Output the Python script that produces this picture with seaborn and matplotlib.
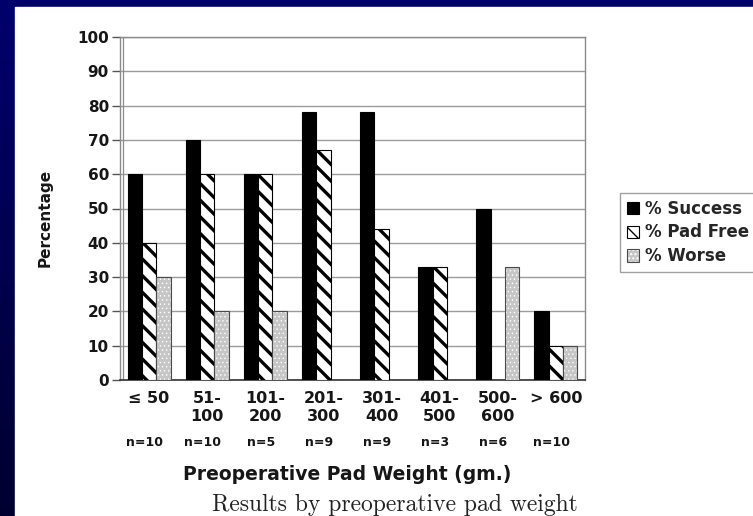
import numpy as np
import pandas as pd
import matplotlib
matplotlib.use("Agg")
import matplotlib.pyplot as plt
import matplotlib.transforms as mtransforms
from matplotlib.colors import LinearSegmentedColormap, to_rgba
from matplotlib.patches import Rectangle, Patch
import seaborn as sns

# Outcome percentages by preoperative pad weight group
categories = ["≤ 50", "51-\n100", "101-\n200", "201-\n300", "301-\n400",
              "401-\n500", "500-\n600", "> 600"]
n_labels = ["n=10", "n=10", "n=5", "n=9", "n=9", "n=3", "n=6", "n=10"]
series = ["% Success", "% Pad Free", "% Worse"]
success = [60, 70, 60, 78, 78, 33, 50, 20]
pad_free = [40, 60, 60, 67, 44, 33, 0, 10]
worse = [30, 20, 20, 0, 0, 0, 33, 10]
y_ticks = list(range(0, 101, 10))

sns.set_theme(style="white")
plt.rcParams["font.family"] = ["DejaVu Sans"]

df = pd.DataFrame({
    "Weight": categories * 3,
    "Series": np.repeat(series, len(categories)),
    "Percentage": success + pad_free + worse,
})

W, H = 753, 516
INK = "#161616"
fig = plt.figure(figsize=(W / 100, H / 100), dpi=100)

# slide background: navy frame with a white panel
bg = fig.add_axes([0, 0, 1, 1], zorder=-10)
grad = np.linspace(0, 1, 256)[:, None]
cmap = LinearSegmentedColormap.from_list("navy", ["#00006c", "#000030"])
bg.imshow(grad, aspect="auto", cmap=cmap, extent=[0, 1, 0, 1])
bg.add_patch(Rectangle((15 / W, 0), 1, 1 - 7 / H, color="white"))
bg.set_xlim(0, 1)
bg.set_ylim(0, 1)
bg.axis("off")

ax = fig.add_axes([120 / W, 1 - 380 / H, 465 / W, 343 / H])
sns.barplot(data=df, x="Weight", y="Percentage", hue="Series", ax=ax,
            width=0.74, saturation=1, legend=False,
            palette=["black", "white", "#cccccc"])

styles = [
    dict(face="black", edge="black", hatch=None, hlw=None, hcol=None),
    dict(face="white", edge="black", hatch="\\\\", hlw=2.4, hcol=None),
    dict(face="#c6c6c6", edge="#4a4a4a", hatch="....", hlw=0.5,
         hcol="white"),
]


def style_patch(p, st):
    p.set_facecolor(st["face"])
    if st["hatch"]:
        p.set_hatch(st["hatch"])
        if hasattr(p, "set_hatch_linewidth"):
            p.set_hatch_linewidth(st["hlw"])
    p.set_edgecolor(st["edge"])
    if st["hcol"]:
        if hasattr(p, "set_hatchcolor"):
            p.set_hatchcolor(st["hcol"])
        else:
            p._hatch_color = to_rgba(st["hcol"])
    p.set_linewidth(0.8)


for cont, st in zip(ax.containers, styles):
    for p in cont:
        style_patch(p, st)
        p.set_zorder(3)

ax.set_xlim(-0.5, len(categories) - 0.5)
ax.set_ylim(0, 100)
ax.set_yticks(y_ticks)
ax.set_yticklabels([str(v) for v in y_ticks], fontsize=11, fontweight="bold",
                   color=INK)
ax.yaxis.grid(True, color="#9c9c9c", linewidth=1.0, zorder=0)
ax.set_axisbelow(True)
ax.set_xlabel("")
ax.set_ylabel("")

ax.set_xticks(range(len(categories)))
ax.set_xticklabels(categories, fontsize=11.5, fontweight="bold",
                   color=INK, linespacing=1.25)
ax.set_xticks(np.arange(-0.5, len(categories), 1), minor=True)
ax.tick_params(axis="x", which="major", length=0, pad=8)
ax.tick_params(axis="x", which="minor", length=5, color="#777777",
               direction="out", width=1)
ax.tick_params(axis="y", which="major", length=6, color="#555555",
               direction="out", width=1, left=True, pad=2)

for side in ["left", "top", "right"]:
    ax.spines[side].set_visible(True)
    ax.spines[side].set_color("#8a8a8a")
    ax.spines[side].set_linewidth(1.0)
ax.spines["bottom"].set_color("#333333")
ax.spines["bottom"].set_linewidth(1.2)

# inner wall line of the plot area
wall = mtransforms.offset_copy(ax.transData, fig=fig, x=2.5, y=0, units="dots")
ax.plot([-0.5, -0.5], [0, 100], color="#8a8a8a", lw=0.9, transform=wall,
        clip_on=False, zorder=1)

# sample sizes under each group
nt = mtransforms.blended_transform_factory(ax.transData, fig.transFigure)
for i, lab in enumerate(n_labels):
    ax.text(i - 0.08, 1 - 442 / H, lab, transform=nt, ha="center", va="center",
            fontsize=9, fontweight="bold", color=INK)

fig.text(45 / W, 1 - 218 / H, "Percentage", rotation=90, ha="center",
         va="center", fontsize=11, fontweight="bold", color=INK)
fig.text(347 / W, 1 - 475 / H, "Preoperative Pad Weight (gm.)", ha="center",
         va="center", fontsize=13.5, fontweight="bold", color=INK)
fig.text(395 / W, 1 - 505 / H, "Results by preoperative pad weight",
         ha="center", va="center", fontsize=17, family="cmr10",
         color="#222222")

handles = []
for st, name in zip(styles, series):
    h = Patch(label=name)
    style_patch(h, st)
    handles.append(h)
leg = fig.legend(handles=handles, loc="upper left",
                 bbox_to_anchor=(620 / W, 1 - 193 / H),
                 frameon=True, fancybox=False, edgecolor="#8a8a8a",
                 prop={"weight": "bold", "size": 12},
                 handlelength=0.75, handleheight=0.75, handletextpad=0.35,
                 labelspacing=0.35, borderpad=0.4, borderaxespad=0)
leg.get_frame().set_linewidth(1.0)

fig.savefig("out.png", dpi=100, facecolor=fig.get_facecolor())
